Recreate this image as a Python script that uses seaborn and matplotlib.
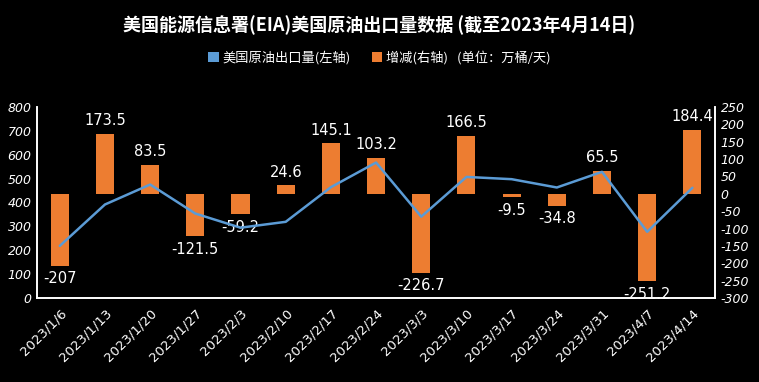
import numpy as np
import pandas as pd
import matplotlib
matplotlib.use("Agg")
import matplotlib.pyplot as plt
from matplotlib.patches import Patch
import seaborn as sns

dates = ["2023/1/6", "2023/1/13", "2023/1/20", "2023/1/27", "2023/2/3",
         "2023/2/10", "2023/2/17", "2023/2/24", "2023/3/3", "2023/3/10",
         "2023/3/17", "2023/3/24", "2023/3/31", "2023/4/7", "2023/4/14"]
exports = [218.0, 391.5, 475.0, 353.5, 294.3, 318.9, 464.0, 567.2,
           340.5, 507.0, 497.5, 462.7, 528.2, 277.0, 461.4]
changes = [-207, 173.5, 83.5, -121.5, -59.2, 24.6, 145.1, 103.2,
           -226.7, 166.5, -9.5, -34.8, 65.5, -251.2, 184.4]

LINE_C = "#5b9bd5"
BAR_C = "#ed7d31"
FG = "white"

sns.set_style("dark")
plt.rcParams["font.family"] = ["Noto Sans CJK SC", "DejaVu Sans"]
plt.rcParams["axes.unicode_minus"] = False

df = pd.DataFrame({"date": dates, "x": np.arange(len(dates)),
                   "exports": exports, "change": changes})

fig = plt.figure(figsize=(7.59, 3.82), dpi=100, facecolor="black")
ax = fig.add_axes([0.049, 0.22, 0.893, 0.50])
ax2 = ax.twinx()

sns.barplot(data=df, x="x", y="change", color=BAR_C, width=0.4,
            saturation=1, linewidth=0, edgecolor="none", ax=ax2)
sns.lineplot(data=df, x="x", y="exports", color=LINE_C, linewidth=1.8, ax=ax)

ax.set_zorder(ax2.get_zorder() + 1)
ax.patch.set_visible(False)
ax2.set_facecolor("black")

ax.set_ylim(0, 800)
ax2.set_ylim(-300, 250)
ax.set_yticks(range(0, 801, 100))
ax2.set_yticks(range(-300, 251, 50))

for a in (ax, ax2):
    a.set_xlabel("")
    a.set_ylabel("")
    a.grid(False)
    a.tick_params(axis="y", colors=FG, labelsize=9, length=0, pad=4)
    for lab in a.get_yticklabels():
        lab.set_fontstyle("italic")
        lab.set_family(["DejaVu Sans"])
    for side in ("left", "right", "bottom"):
        a.spines[side].set_visible(True)
        a.spines[side].set_color(FG)
        a.spines[side].set_linewidth(1.2)
    a.spines["top"].set_visible(False)

ax.set_xlim(-0.5, len(dates) - 0.5)
ax.set_xticks(df["x"])
ax.set_xticklabels(dates, rotation=45, ha="right", rotation_mode="anchor",
                   color=FG, fontsize=9.5, family=["DejaVu Sans"])
ax.tick_params(axis="x", colors=FG, length=0, pad=6, labelbottom=True)

for xi, v in zip(df["x"], changes):
    txt = f"{v:g}"
    off, va = ((0, 4), "bottom") if v >= 0 else ((0, -4), "top")
    ax2.annotate(txt, (xi, v), xytext=off, textcoords="offset points",
                 ha="center", va=va, color=FG, fontsize=10.5,
                 family=["DejaVu Sans"])

fig.text(0.5, 0.935, "美国能源信息署(EIA)美国原油出口量数据 (截至2023年4月14日)",
         ha="center", va="center", color=FG, fontsize=13, fontweight="bold")

handles = [Patch(facecolor=LINE_C, edgecolor="none"),
           Patch(facecolor=BAR_C, edgecolor="none")]
leg = fig.legend(handles, ["美国原油出口量(左轴)", "增减(右轴)   (单位：万桶/天)"],
                 loc="center", bbox_to_anchor=(0.5, 0.848), ncol=2,
                 frameon=False, fontsize=9.5, handlelength=0.8,
                 handleheight=0.8, columnspacing=1.6, handletextpad=0.3)
for t in leg.get_texts():
    t.set_color(FG)

fig.savefig("out.png", dpi=100, facecolor="black")
